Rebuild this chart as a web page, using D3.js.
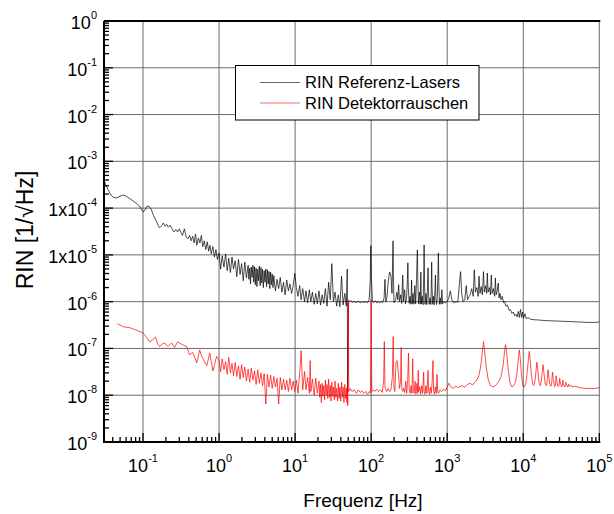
<!DOCTYPE html>
<html><head><meta charset="utf-8">
<script src="https://cdn.jsdelivr.net/npm/d3@7"></script>
<style>body{margin:0;background:#fff}svg{display:block}</style>
</head><body>
<svg id="c" width="614" height="514"></svg>
<script>
// ---------- data ----------
const xDecades = [0.1, 1, 10, 100, 1000, 10000, 100000];
const xTickExp = ["-1", "0", "1", "2", "3", "4", "5"];
const yDecades = [1, 1e-1, 1e-2, 1e-3, 1e-4, 1e-5, 1e-6, 1e-7, 1e-8, 1e-9];
const yTickBase = ["10", "10", "10", "10", "1x10", "1x10", "10", "10", "10", "10"];
const yTickExp = ["0", "-1", "-2", "-3", "-4", "-5", "-6", "-7", "-8", "-9"];
const seriesNames = ["RIN Referenz-Lasers", "RIN Detektorrauschen"];
const xTitle = "Frequenz [Hz]";
const yTitle = "RIN [1/\u221AHz]";

// [frequency Hz, RIN 1/sqrt(Hz)]
const refLaser = [
[0.030,4.4e-4],[0.032,3.3e-4],[0.035,2.4e-4],[0.038,1.9e-4],[0.041,1.7e-4],[0.045,1.65e-4],[0.05,1.8e-4],[0.055,1.9e-4],[0.06,1.8e-4],[0.067,1.6e-4],[0.075,1.4e-4],[0.083,1.25e-4],[0.09,1.1e-4],[0.095,9.5e-5],[0.1,8.3e-5],[0.106,9e-5],[0.113,1.1e-4],[0.12,1.1e-4],[0.128,9.5e-5],[0.137,7e-5],[0.148,5.5e-5],[0.158,4.3e-5],[0.165,3.8e-5],[0.175,4.2e-5],[0.185,4.8e-5],[0.195,4.1e-5],[0.205,4.5e-5],[0.215,3.9e-5],[0.228,4.3e-5],[0.24,3.6e-5],[0.255,3.1e-5],[0.27,3.5e-5],[0.285,3.1e-5],[0.3,3.6e-5],[0.315,3.0e-5],[0.33,2.6e-5],[0.35,3.6e-5],[0.37,2.4e-5],[0.39,2.2e-5],[0.41,2.6e-5],[0.43,2.0e-5],[0.45,2.5e-5],[0.47,1.8e-5],[0.49,2.8e-5],[0.51,1.6e-5],[0.535,2.3e-5],[0.56,1.8e-5],[0.585,2.6e-5],[0.61,1.5e-5],[0.64,2.0e-5],[0.67,1.3e-5],[0.7,1.9e-5],[0.73,1.2e-5],[0.76,1.6e-5],[0.79,1.05e-5],[0.83,1.5e-5],[0.87,9e-6],[0.91,1.3e-5],[0.95,8e-6],
[1.0,1.1e-5],[1.05,5.0e-6],[1.1,9.5e-6],[1.16,5.5e-6],[1.22,1.05e-5],[1.28,4.6e-6],[1.34,8.5e-6],[1.41,4.2e-6],[1.48,9.0e-6],[1.55,5.0e-6],[1.63,7.5e-6],[1.71,3.4e-6],[1.8,8.0e-6],[1.89,3.8e-6],[1.98,6.5e-6],[2.08,2.8e-6],[2.18,7.0e-6],[2.29,3.2e-6],
[2.41,6.0e-6],[2.47,3.0e-6],[2.53,5.2e-6],[2.59,2.4e-6],[2.65,5.5e-6],[2.72,3.3e-6],[2.79,6.0e-6],[2.86,2.6e-6],[2.93,5.6e-6],[3.0,2.3e-6],[3.07,5.2e-6],[3.15,2.1e-6],[3.23,5.0e-6],[3.31,2.8e-6],[3.39,5.8e-6],[3.47,2.2e-6],[3.56,5.4e-6],[3.64,2.5e-6],[3.73,4.9e-6],[3.82,2.0e-6],[3.92,4.6e-6],[4.02,2.6e-6],[4.12,5.0e-6],[4.22,2.1e-6],[4.32,4.8e-6],[4.43,2.4e-6],[4.54,4.4e-6],[4.65,1.9e-6],[4.76,4.3e-6],[4.88,2.3e-6],[5.0,3.9e-6],[5.12,2.0e-6],
[5.25,3.6e-6],[5.51,1.7e-6],[5.79,3.0e-6],[6.08,1.9e-6],[6.38,3.3e-6],[6.7,1.6e-6],[7.04,2.6e-6],[7.39,1.4e-6],[7.76,2.9e-6],[8.15,1.7e-6],[8.56,2.4e-6],[8.99,1.5e-6],[9.43,2.2e-6],[9.9,4.0e-6],
[10.4,2.0e-6],[10.9,1.3e-6],[11.5,2.2e-6],[12.0,1.1e-6],[12.6,1.9e-6],[13.3,1.0e-6],[13.9,1.7e-6],[14.6,9.5e-7],[15.4,1.8e-6],[16.1,1.0e-6],[16.9,1.6e-6],[17.8,8.8e-7],[18.7,1.5e-6],[19.6,9.0e-7],[20.6,1.7e-6],[21.6,8.5e-7],[22.7,1.4e-6],[23.8,9.2e-7],[25.0,1.9e-6],[26.3,8.0e-7],[27.6,2.6e-6],[29.0,1.1e-6],[30.4,6.5e-6],[31.9,1.0e-6],[33.5,1.6e-6],[35.2,8.0e-7],[37.0,1.4e-6],[38.8,7.8e-7],[40.8,3.5e-6],[42.8,8.5e-7],[45.0,1.5e-6],[47.2,8.0e-7],[48.5,5.0e-6],[49.0,1.2e-8],[50.5,1.0e-6],
[54,1.05e-6],[57,9.8e-7],[60,1.0e-6],[64,9.6e-7],[68,1.02e-6],[72,9.5e-7],[76,1.0e-6],[80,9.7e-7],[85,1.0e-6],[90,9.5e-7],[94,1.1e-6],[97,2.5e-6],[99,1.57e-5],[101,3e-6],[104,1.0e-6],
[108,9.6e-7],[113,1.05e-6],[118,9.5e-7],[124,1.0e-6],[130,9.4e-7],[136,1.02e-6],[142,9.6e-7],[148,1.2e-6],[152,3.0e-6],[156,1.0e-6],[162,1.3e-6],[168,2.8e-6],[175,4.3e-6],[182,3.5e-6],[188,1.5e-6],[192,9e-6],[194,2.0e-5],[196,4e-6],[200,9.5e-7],[210,1.1e-6],[218,1.6e-6],[224,1.1e-6],[230,2.3e-6],[236,1.0e-6],[245,1.4e-6],[252,9.2e-7],[260,3.7e-6],[266,1.0e-6],[275,1.8e-6],[283,9e-7],[292,1.2e-6],[300,3e-6],[304,6.8e-6],[308,2e-6],[316,9.2e-7],[325,1.3e-6],[333,8.8e-7],[340,2.9e-6],[347,9e-7],[356,1.5e-6],[365,8.8e-7],[375,2.2e-6],[385,9e-7],[395,3e-6],[405,1.28e-5],[412,2.5e-6],[420,9e-7],[432,1.6e-6],[442,8.8e-7],[450,4.3e-6],[458,9e-7],[470,1.3e-6],[482,8.6e-7],[492,4e-6],[497,1.63e-5],[503,2.5e-6],[512,8.8e-7],[525,1.5e-6],[540,8.6e-7],[552,2.2e-6],[560,5.3e-6],[568,1.5e-6],[580,8.8e-7],[595,1.2e-6],[610,8.7e-7],[620,3e-6],[625,7e-6],[632,2e-6],[645,8.8e-7],[660,1.3e-6],[675,8.6e-7],[690,1.8e-6],[700,3.7e-6],[710,1.2e-6],[725,8.7e-7],[740,1.2e-6],[755,4e-6],[766,1.1e-5],[776,2.5e-6],[790,8.8e-7],[810,1.2e-6],[830,8.8e-7],[850,1.8e-6],[870,9e-7],[900,1.0e-6],[950,9.4e-7],
[1000,1.0e-6],[1050,1.2e-6],[1100,1.7e-6],[1150,1.1e-6],[1220,9.5e-7],[1300,1.0e-6],[1380,9.8e-7],[1450,2.5e-6],[1500,4.4e-6],[1550,1.5e-6],[1620,1.0e-6],[1700,1.1e-6],[1780,2.2e-6],[1850,1.1e-6],[1950,1.3e-6],[2000,1.4e-6],[2100,1.9e-6],[2200,1.3e-6],[2270,4.8e-6],[2350,1.6e-6],[2450,2.0e-6],[2550,1.3e-6],[2620,3.5e-6],[2700,1.5e-6],[2800,2.1e-6],[2900,1.4e-6],[3000,4.4e-6],[3080,1.6e-6],[3200,2.2e-6],[3300,1.5e-6],[3370,4.1e-6],[3450,1.6e-6],[3600,2.0e-6],[3700,1.4e-6],[3800,3.7e-6],[3900,1.5e-6],[4050,1.9e-6],[4200,1.3e-6],[4300,3.2e-6],[4400,1.4e-6],[4550,1.7e-6],[4700,2.5e-6],[4800,1.2e-6],[4950,1.5e-6],[5100,1.1e-6],[5300,1.3e-6],[5500,9.5e-7],[5700,1.0e-6],[5900,8e-7],[6200,8.5e-7],[6500,6.5e-7],[6800,6.8e-7],[7100,5.6e-7],[7400,6e-7],[7700,5.0e-7],[8000,5.4e-7],[8300,4.7e-7],[8600,6.2e-7],[8900,4.6e-7],[9200,6.8e-7],[9500,4.6e-7],[9800,6.0e-7],
[10100,4.4e-7],[10500,5.5e-7],[11000,4.3e-7],[11600,4.6e-7],[12500,4.2e-7],[14000,4.1e-7],[16000,4.05e-7],[19000,3.95e-7],[23000,3.9e-7],[28000,3.85e-7],[34000,3.8e-7],[40000,3.75e-7],[50000,3.7e-7],[60000,3.65e-7],[70000,3.6e-7],[80000,3.6e-7],[90000,3.6e-7],[100000,3.7e-7]
];

const detNoise = [
[0.046,3.4e-7],[0.055,2.9e-7],[0.066,2.8e-7],[0.08,2.5e-7],[0.1,2.15e-7],[0.112,1.7e-7],[0.122,1.38e-7],[0.135,1.55e-7],[0.146,1.75e-7],[0.155,1.3e-7],[0.165,1.1e-7],[0.18,1.25e-7],[0.193,1.3e-7],[0.211,1.1e-7],[0.238,1.3e-7],[0.26,1.05e-7],[0.285,1.38e-7],[0.33,1.2e-7],[0.375,1.1e-7],[0.41,7.3e-8],[0.45,8.3e-8],[0.51,4.9e-8],[0.556,9.3e-8],[0.59,6.8e-8],[0.69,4.3e-8],[0.755,8e-8],[0.83,3.3e-8],[0.93,6.8e-8],
[1.0,5.5e-8],[1.05,3.2e-8],[1.1,6e-8],[1.16,3.5e-8],[1.22,5.2e-8],[1.28,2.8e-8],[1.34,6.5e-8],[1.41,3.0e-8],[1.48,4.8e-8],[1.55,2.6e-8],[1.63,5.0e-8],[1.71,2.5e-8],[1.8,4.2e-8],[1.89,2.2e-8],[1.98,4.5e-8],[2.08,2.4e-8],[2.18,4.0e-8],[2.29,2.0e-8],[2.41,3.6e-8],[2.53,1.9e-8],[2.65,3.8e-8],[2.79,2.1e-8],[2.93,3.3e-8],[3.07,1.7e-8],[3.23,3.5e-8],[3.39,1.8e-8],[3.56,3.0e-8],[3.73,1.6e-8],[3.92,2.9e-8],[4.12,6.5e-9],[4.32,2.8e-8],[4.54,1.5e-8],[4.76,2.7e-8],[5.0,1.4e-8],[5.25,2.5e-8],[5.51,1.5e-8],[5.79,2.3e-8],[6.08,6.5e-9],[6.38,2.4e-8],[6.7,1.3e-8],[7.04,2.2e-8],[7.39,1.3e-8],[7.76,2.1e-8],[8.15,1.2e-8],[8.56,2.3e-8],[8.99,1.3e-8],[9.43,2.0e-8],[9.9,1.2e-8],
[10.4,2.1e-8],[10.9,1.1e-8],[11.5,3.0e-8],[12.0,9e-8],[12.6,1.3e-8],[13.3,3.2e-8],[13.9,1.3e-8],[14.6,2.4e-8],[15.4,1.1e-8],[15.8,5.5e-8],[16.1,1.2e-8],[16.9,2.2e-8],[17.8,1.0e-8],[18.7,2.3e-8],[19.6,1.1e-8],
[20.6,2.0e-8],[21.1,9e-9],[21.6,1.7e-8],[22.1,7e-9],[22.7,1.8e-8],[23.2,9.5e-9],[23.8,1.6e-8],[24.4,8e-9],[25.0,2.1e-8],[25.6,1.0e-8],[26.3,1.7e-8],[26.9,8.5e-9],[27.6,2.2e-8],[28.3,9e-9],[29.0,1.6e-8],[29.7,7.5e-9],[30.4,1.9e-8],[31.1,9.5e-9],[31.9,1.5e-8],[32.7,8e-9],[33.5,2.0e-8],[34.3,9e-9],[35.2,1.4e-8],[36.1,7.5e-9],[37.0,1.8e-8],[37.9,8.5e-9],[38.8,1.5e-8],[39.8,7.5e-9],[40.8,1.9e-8],[41.8,9e-9],[42.8,1.5e-8],[43.9,7e-9],[45.0,1.7e-8],[46.1,8.5e-9],[47.2,1.4e-8],[48.0,7e-9],[48.5,1.5e-8],[49.3,6e-9],[50.0,1.1e-6],[50.8,1.2e-8],
[53,1.4e-8],[56,1.2e-8],[60,1.3e-8],[64,1.1e-8],[68,1.3e-8],[72,1.15e-8],[76,1.25e-8],[80,1.1e-8],[85,1.2e-8],[90,1.05e-8],[95,1.2e-8],[98,1.1e-8],[100,1.1e-6],[102,1.2e-8],
[106,1.3e-8],[112,1.2e-8],[118,1.35e-8],[125,1.2e-8],[132,1.3e-8],[140,1.15e-8],[146,2e-8],[149,1.4e-7],[152,1.5e-8],[160,1.2e-8],[168,1.4e-8],[175,1.2e-8],[182,1.3e-8],[190,2.5e-8],[195,1.8e-7],[199,1.5e-8],[205,1.2e-8],[212,5e-8],[220,5.5e-8],[228,3e-8],[236,1.4e-8],[244,2e-8],[248,1.05e-7],[252,1.5e-8],[260,1.2e-8],[268,1.4e-8],[276,1.15e-8],[285,2.0e-8],[293,1.1e-8],[302,2e-8],[310,8e-8],[316,1.4e-8],[325,1.1e-8],[335,1.6e-8],[344,1.1e-8],[352,6e-8],[358,1.3e-8],[368,1.1e-8],[378,2e-8],[388,1.05e-8],[400,1.8e-8],[410,1.1e-8],[416,3.4e-8],[422,1.2e-8],[435,1.5e-8],[448,1.05e-8],[460,1.6e-8],[475,1.1e-8],[490,3.1e-8],[498,1.2e-8],[512,1.05e-8],[525,1.6e-8],[540,1.1e-8],[560,3.4e-8],[570,1.2e-8],[585,1.05e-8],[600,1.5e-8],[618,1.1e-8],[635,2e-8],[650,5.5e-8],[662,1.3e-8],[680,1.05e-8],[700,1.5e-8],[718,1.1e-8],[735,2.8e-8],[748,1.2e-8],[770,1.1e-8],[800,1.3e-8],[850,1.2e-8],[900,1.35e-8],[950,1.25e-8],
[1000,1.5e-8],[1050,1.8e-8],[1120,1.5e-8],[1200,1.4e-8],[1300,1.55e-8],[1400,1.45e-8],[1550,1.6e-8],[1700,1.5e-8],[1850,1.7e-8],[2000,1.8e-8],[2150,1.65e-8],[2300,1.9e-8],[2450,2.1e-8],[2600,2.6e-8],[2750,4.0e-8],[2900,8.5e-8],[3000,1.4e-7],[3100,9e-8],[3250,4.2e-8],[3450,2.2e-8],[3700,1.6e-8],[4000,1.5e-8],[4300,1.6e-8],[4700,1.9e-8],[5100,2.5e-8],[5450,4.5e-8],[5700,9e-8],[5850,1.2e-7],[6050,8e-8],[6350,3.5e-8],[6700,1.8e-8],[7100,1.5e-8],[7500,1.6e-8],[7900,1.9e-8],[8300,3e-8],[8650,6.5e-8],[8900,9.3e-8],[9150,6e-8],[9500,2.6e-8],[9900,1.6e-8],
[10300,1.5e-8],[10800,1.8e-8],[11300,3.2e-8],[11700,6e-8],[12000,8.7e-8],[12300,6e-8],[12800,2.8e-8],[13300,1.7e-8],[13800,1.6e-8],[14300,2.1e-8],[14800,3.6e-8],[15100,5.1e-8],[15500,3.5e-8],[16200,1.8e-8],[16800,1.6e-8],[17400,2.2e-8],[17900,3.5e-8],[18200,4.5e-8],[18600,3.2e-8],[19500,1.7e-8],[20300,1.6e-8],[20800,2.4e-8],[21200,3.5e-8],[21600,2.6e-8],[22500,1.6e-8],[23500,1.6e-8],[24000,2.5e-8],[24300,3.1e-8],[24700,2.3e-8],[25800,1.55e-8],[26500,1.6e-8],[27000,2.6e-8],[27400,2.2e-8],[28500,1.55e-8],[29600,1.6e-8],[30100,2.3e-8],[30500,2.0e-8],[31800,1.5e-8],[32800,1.6e-8],[33100,2.1e-8],[33500,1.8e-8],[35000,1.5e-8],[36000,1.6e-8],[36300,1.9e-8],[36700,1.7e-8],[38500,1.5e-8],[39300,1.75e-8],[40000,1.55e-8],[42300,1.65e-8],[44000,1.5e-8],[48000,1.55e-8],[55000,1.45e-8],[65000,1.4e-8],[75000,1.4e-8],[85000,1.38e-8],[100000,1.45e-8]
];

// ---------- drawing ----------
const FONT = "'Liberation Sans', Arial, Helvetica, sans-serif";
const L = 104, R = 599.3, T = 21, B = 442;
const svg = d3.select("#c").style("font-family", FONT);
const x = d3.scaleLog().domain([0.0307, 1e5]).range([L, R]);
const y = d3.scaleLog().domain([1e-9, 1]).range([B, T]);

svg.append("defs").append("clipPath").attr("id", "clip")
  .append("rect").attr("x", L).attr("y", T).attr("width", R - L + 1).attr("height", B - T);

// grid
const grid = svg.append("g").attr("stroke", "#6a6a6a").attr("stroke-width", 1);
xDecades.forEach(d => grid.append("line").attr("x1", x(d)).attr("x2", x(d)).attr("y1", T).attr("y2", B));
yDecades.forEach(d => grid.append("line").attr("y1", y(d)).attr("y2", y(d)).attr("x1", L).attr("x2", R));

// series
const line = d3.line().x(d => x(d[0])).y(d => y(d[1]));
const plot = svg.append("g").attr("clip-path", "url(#clip)").attr("fill", "none");
plot.append("path").datum(refLaser).attr("d", line).attr("stroke", "#000").attr("stroke-width", 0.7);
plot.append("path").datum(detNoise).attr("d", line).attr("stroke", "#ff0000").attr("stroke-width", 0.7);

// minor / major ticks
const ticks = svg.append("g").attr("stroke", "#000").attr("stroke-width", 1.3);
const xMin = x.domain()[0], xMax = x.domain()[1];
for (let e = -2; e <= 4; e++) for (let k = 2; k <= 9; k++) {
  const v = k * Math.pow(10, e);
  if (v > xMin && v < xMax) ticks.append("line").attr("x1", x(v)).attr("x2", x(v)).attr("y1", B).attr("y2", B - 5);
}
xDecades.forEach(d => ticks.append("line").attr("x1", x(d)).attr("x2", x(d)).attr("y1", B).attr("y2", B - 9));
for (let e = -9; e <= -1; e++) for (let k = 2; k <= 9; k++) {
  const v = k * Math.pow(10, e);
  ticks.append("line").attr("y1", y(v)).attr("y2", y(v)).attr("x1", L).attr("x2", L + 5);
}
yDecades.forEach(d => ticks.append("line").attr("y1", y(d)).attr("y2", y(d)).attr("x1", L).attr("x2", L + 9));

// frame
svg.append("path").attr("d", `M${L},${T}V${B}H${R + 1}`).attr("fill", "none").attr("stroke", "#000").attr("stroke-width", 2);
svg.append("line").attr("x1", L).attr("x2", R + 1).attr("y1", T).attr("y2", T).attr("stroke", "#000").attr("stroke-width", 2);

// y tick labels
yDecades.forEach((d, i) => {
  const t = svg.append("text").attr("x", 97).attr("y", y(d) + 8).attr("text-anchor", "end")
    .attr("font-size", 18).attr("fill", "#000");
  t.append("tspan").text(yTickBase[i]);
  t.append("tspan").attr("font-size", 11).attr("dy", -10).text(yTickExp[i]);
});
// x tick labels
xDecades.forEach((d, i) => {
  const t = svg.append("text").attr("x", x(d)).attr("y", 472).attr("text-anchor", "middle")
    .attr("font-size", 18).attr("fill", "#000");
  t.append("tspan").text("10");
  t.append("tspan").attr("font-size", 11).attr("dy", -10).text(xTickExp[i]);
});

// titles
svg.append("text").attr("x", 363).attr("y", 507).attr("text-anchor", "middle")
  .attr("font-size", 19).text(xTitle);
svg.append("text").attr("transform", "translate(33,230) rotate(-90)").attr("text-anchor", "middle")
  .attr("font-size", 23).text(yTitle);

// legend
const lg = svg.append("g");
lg.append("rect").attr("x", 235.5).attr("y", 65.5).attr("width", 243.5).attr("height", 54.5)
  .attr("fill", "#fff").attr("stroke", "#000").attr("stroke-width", 1);
const legColors = ["#000", "#ff0000"];
seriesNames.forEach((n, i) => {
  const yy = 82.5 + i * 20.5;
  lg.append("line").attr("x1", 260).attr("x2", 300).attr("y1", yy).attr("y2", yy)
    .attr("stroke", legColors[i]).attr("stroke-width", 0.6);
  lg.append("text").attr("x", 305).attr("y", yy + 5.5).attr("font-size", 16.5).text(n);
});
</script>
</body></html>
